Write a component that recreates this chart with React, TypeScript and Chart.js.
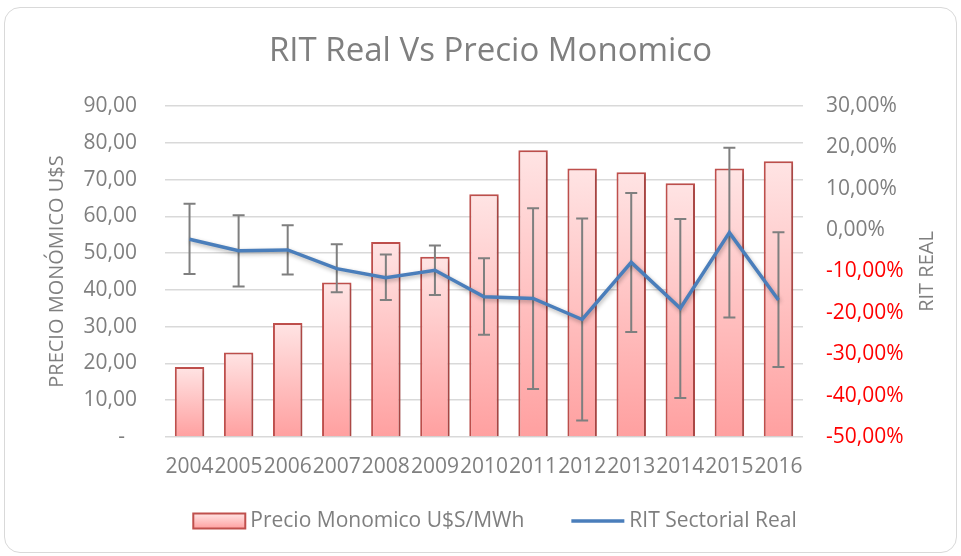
import React, { useEffect, useRef } from 'react';
import { Chart, registerables } from 'chart.js';

Chart.register(...registerables);

const FONT = "'Open Sans', 'Noto Sans', sans-serif";
const GRAY = '#7f7f7f';

const years = ['2004', '2005', '2006', '2007', '2008', '2009', '2010', '2011', '2012', '2013', '2014', '2015', '2016'];
const precioMonomico = [19, 23, 31, 42, 53, 49, 66, 78, 73, 72, 69, 73, 75];
const ritSectorialReal = [-2.2, -5.0, -4.8, -9.3, -11.5, -9.7, -16.1, -16.5, -21.6, -7.8, -18.9, -0.6, -16.9];
const ritErrorHigh = [6.4, 3.6, 1.2, -3.4, -5.9, -3.7, -6.8, 5.3, 2.8, 9.0, 2.7, 19.9, -0.5];
const ritErrorLow = [-10.6, -13.6, -10.7, -15.0, -16.9, -15.7, -25.3, -38.4, -46.0, -24.6, -40.6, -21.1, -33.1];

const precioRange = [0, 90, 10];
const ritRange = [-50, 30, 10];

const titleText = 'RIT Real Vs Precio Monomico';
const leftAxisTitle = 'PRECIO MONÓMICO U$S';
const rightAxisTitle = 'RIT REAL';
const legendLabels = ['Precio Monomico U$S/MWh', 'RIT Sectorial Real'];

const BAR_TOP = '#ffe4e4';
const BAR_BOTTOM = '#ffa0a0';
const BAR_BORDER = '#c0504d';
const LINE_COLOR = '#4a7ebb';

const fmt = (v: number) => v.toFixed(2).replace('.', ',');

const errorBarsPlugin = {
  id: 'errorBars',
  beforeDatasetDraw(chart: any, args: any) {
    const ctx = chart.ctx;
    if (args.index === 0) {
      ctx.save();
      ctx.shadowColor = 'rgba(0,0,0,0.18)';
      ctx.shadowBlur = 4;
      ctx.shadowOffsetX = 2;
      ctx.shadowOffsetY = 2;
      return;
    }
    if (args.index !== 1) return;
    const meta = chart.getDatasetMeta(1);
    const yScale = chart.scales.y1;
    ctx.save();
    ctx.strokeStyle = GRAY;
    ctx.lineWidth = 2;
    meta.data.forEach((pt: any, i: number) => {
      const x = pt.x;
      const yh = yScale.getPixelForValue(ritErrorHigh[i]);
      const yl = yScale.getPixelForValue(ritErrorLow[i]);
      ctx.beginPath();
      ctx.moveTo(x, yh);
      ctx.lineTo(x, yl);
      ctx.moveTo(x - 6, yh);
      ctx.lineTo(x + 6, yh);
      ctx.moveTo(x - 6, yl);
      ctx.lineTo(x + 6, yl);
      ctx.stroke();
    });
    ctx.restore();
    ctx.save();
    ctx.shadowColor = 'rgba(0,0,0,0.3)';
    ctx.shadowBlur = 4;
    ctx.shadowOffsetX = 1;
    ctx.shadowOffsetY = 2;
  },
  afterDatasetDraw(chart: any, args: any) {
    if (args.index === 0 || args.index === 1) chart.ctx.restore();
  },
};

const legendPlugin = {
  id: 'customLegend',
  afterDraw(chart: any) {
    const ctx = chart.ctx;
    const area = chart.chartArea;
    ctx.save();
    // right axis title, reading bottom-to-top
    ctx.font = `20px ${FONT}`;
    ctx.fillStyle = GRAY;
    ctx.textAlign = 'center';
    ctx.textBaseline = 'middle';
    ctx.save();
    ctx.translate(area.right + 124, (area.top + area.bottom) / 2);
    ctx.rotate(-Math.PI / 2);
    ctx.fillText(rightAxisTitle, 0, 0);
    ctx.restore();

    ctx.font = `21px ${FONT}`;
    const w1 = ctx.measureText(legendLabels[0]).width;
    const w2 = ctx.measureText(legendLabels[1]).width;
    const boxW = 52, boxH = 15, gap = 5, itemGap = 47, lineW = 53;
    const total = boxW + gap + w1 + itemGap + lineW + gap + w2;
    const cx = (area.left + area.right) / 2 + 11;
    let x = cx - total / 2;
    const y = area.bottom + 84;
    const g = ctx.createLinearGradient(0, y - boxH / 2, 0, y + boxH / 2);
    g.addColorStop(0, BAR_TOP);
    g.addColorStop(1, BAR_BOTTOM);
    ctx.fillStyle = g;
    ctx.fillRect(x, y - boxH / 2, boxW, boxH);
    ctx.strokeStyle = BAR_BORDER;
    ctx.lineWidth = 2;
    ctx.strokeRect(x, y - boxH / 2, boxW, boxH);
    x += boxW + gap;
    ctx.fillStyle = GRAY;
    ctx.textAlign = 'left';
    ctx.textBaseline = 'middle';
    ctx.fillText(legendLabels[0], x, y);
    x += w1 + itemGap;
    ctx.beginPath();
    ctx.moveTo(x, y);
    ctx.lineTo(x + lineW, y);
    ctx.strokeStyle = LINE_COLOR;
    ctx.lineWidth = 3.5;
    ctx.stroke();
    x += lineW + gap;
    ctx.fillText(legendLabels[1], x, y);
    ctx.restore();
  },
};

export default function App() {
  const canvasRef = useRef<HTMLCanvasElement | null>(null);

  useEffect(() => {
    const canvas = canvasRef.current;
    if (!canvas) return;
    const chart = new Chart(canvas, {
      type: 'bar',
      data: {
        labels: years,
        datasets: [
          {
            type: 'bar',
            label: legendLabels[0],
            data: precioMonomico,
            yAxisID: 'y',
            order: 1,
            borderColor: BAR_BORDER,
            borderWidth: 2,
            categoryPercentage: 1,
            barPercentage: 0.6,
            backgroundColor: (c: any) => {
              const ch = c.chart;
              if (!ch.chartArea || c.type !== 'data') return BAR_BOTTOM;
              const ys = ch.scales.y;
              const top = ys.getPixelForValue(c.raw);
              const bottom = ys.getPixelForValue(0);
              if (!isFinite(top) || !isFinite(bottom) || top === bottom) return BAR_BOTTOM;
              const gr = ch.ctx.createLinearGradient(0, top, 0, bottom);
              gr.addColorStop(0, BAR_TOP);
              gr.addColorStop(1, BAR_BOTTOM);
              return gr;
            },
          } as any,
          {
            type: 'line',
            label: legendLabels[1],
            data: ritSectorialReal,
            yAxisID: 'y1',
            order: 0,
            borderColor: LINE_COLOR,
            backgroundColor: LINE_COLOR,
            borderWidth: 3.5,
            pointRadius: 0,
            tension: 0,
          } as any,
        ],
      },
      options: {
        animation: false,
        responsive: false,
        layout: { padding: { left: 20, right: 0, top: 0, bottom: 0 } },
        plugins: {
          legend: { display: false },
          tooltip: { enabled: false },
          title: {
            display: true,
            text: titleText,
            color: GRAY,
            font: { family: FONT, size: 33, weight: 'normal', lineHeight: 1.2 },
            padding: { top: 32, bottom: 34.4 },
          },
        },
        scales: {
          x: {
            grid: { display: false, drawTicks: false },
            border: { display: false },
            ticks: {
              color: GRAY,
              font: { family: FONT, size: 21 },
              autoSkip: false,
              maxRotation: 0,
              minRotation: 0,
              padding: 17,
            },
            afterFit: (s: any) => { s.height = 119; },
          },
          y: {
            position: 'left',
            min: precioRange[0],
            max: precioRange[1],
            grid: { color: '#d9d9d9', lineWidth: 1.5, drawTicks: false },
            border: { display: false },
            ticks: {
              stepSize: precioRange[2],
              color: GRAY,
              font: { family: FONT, size: 21 },
              padding: 28,
              callback: (v: any) => (Number(v) === 0 ? '-\u2007' : fmt(Number(v))),
            },
            title: {
              display: true,
              text: leftAxisTitle,
              color: GRAY,
              font: { family: FONT, size: 20, lineHeight: 1.2 },
              padding: { top: 25.5, bottom: 0 },
            },
            afterFit: (s: any) => { s.width = 145; },
          },
          y1: {
            position: 'right',
            min: ritRange[0],
            max: ritRange[1],
            grid: { display: false, drawTicks: false },
            border: { display: false },
            ticks: {
              stepSize: ritRange[2],
              color: (c: any) => (c.tick && c.tick.value < 0 ? '#ff0000' : GRAY),
              font: { family: FONT, size: 21 },
              padding: 23,
              callback: (v: any) => fmt(Number(v)) + '%',
            },
            title: { display: false },
            afterFit: (s: any) => { s.width = 158; },
          },
        },
      } as any,
      plugins: [errorBarsPlugin, legendPlugin],
    });
    return () => chart.destroy();
  }, []);

  return (
    <div style={{ position: 'fixed', left: 0, top: 0, width: 961, height: 556, background: '#ffffff' }}>
      <div
        style={{
          position: 'absolute',
          left: 4,
          top: 7,
          width: 951,
          height: 544,
          border: '1.5px solid #d9d9d9',
          borderRadius: 16,
        }}
      />
      <canvas ref={canvasRef} width={961} height={556} style={{ position: 'absolute', left: 0, top: 0 }} />
    </div>
  );
}
